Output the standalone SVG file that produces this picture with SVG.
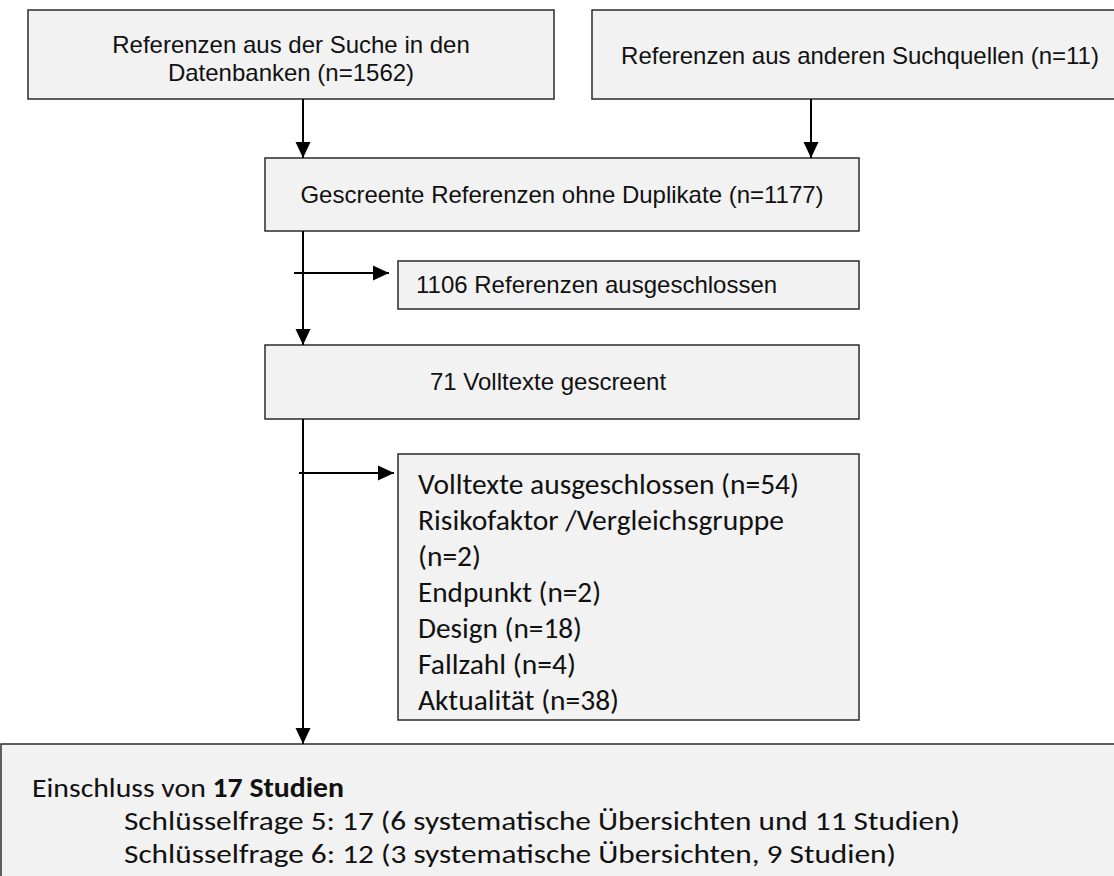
<svg xmlns="http://www.w3.org/2000/svg" width="1114" height="876" viewBox="0 0 1114 876">
<defs>
<marker id="ah" markerUnits="userSpaceOnUse" markerWidth="16" markerHeight="16" refX="16" refY="8" orient="auto" viewBox="0 0 16 16">
<path d="M0,0.5 L16,8 L0,15.5 Z" fill="#000"/>
</marker>
<style>
.box{fill:#f2f2f2;stroke:#2b2b2b;stroke-width:1.5}
.ar{font-family:"Liberation Sans",Arial,sans-serif;font-size:24px;fill:#111}
.cb{font-family:Carlito,Lato,"Open Sans",sans-serif;font-size:29.3px;fill:#111}
.cb2{font-family:Carlito,Lato,"Open Sans",sans-serif;font-size:27.5px;fill:#111}
.ln{stroke:#000;stroke-width:2;fill:none}
</style>
</defs>
<g id="node-datenbanken">
<rect class="box" x="28" y="10" width="526" height="89"/>
<text class="ar" x="291" y="53" text-anchor="middle">Referenzen aus der Suche in den</text>
<text class="ar" x="291" y="81" text-anchor="middle">Datenbanken (n=1562)</text>
</g>
<g id="node-andere">
<rect class="box" x="592" y="10" width="540" height="89"/>
<text class="ar" x="860" y="64" text-anchor="middle">Referenzen aus anderen Suchquellen (n=11)</text>
</g>
<g id="node-gescreent">
<rect class="box" x="265" y="158" width="594" height="73"/>
<text class="ar" x="562" y="203" text-anchor="middle">Gescreente Referenzen ohne Duplikate (n=1177)</text>
</g>
<g id="node-ausgeschlossen1">
<rect class="box" x="398" y="261" width="461" height="48"/>
<text class="ar" x="416" y="293">1106 Referenzen ausgeschlossen</text>
</g>
<g id="node-volltexte">
<rect class="box" x="265" y="345" width="594" height="74"/>
<text class="ar" x="548" y="390" text-anchor="middle">71 Volltexte gescreent</text>
</g>
<g id="node-ausgeschlossen2">
<rect class="box" x="398" y="454" width="461" height="266"/>
<text class="cb" x="418" y="494" textLength="381" lengthAdjust="spacingAndGlyphs">Volltexte ausgeschlossen (n=54)</text>
<text class="cb" x="418" y="530" textLength="366" lengthAdjust="spacingAndGlyphs">Risikofaktor /Vergleichsgruppe</text>
<text class="cb" x="418" y="566" textLength="63" lengthAdjust="spacingAndGlyphs">(n=2)</text>
<text class="cb" x="418" y="602" textLength="183" lengthAdjust="spacingAndGlyphs">Endpunkt (n=2)</text>
<text class="cb" x="418" y="638" textLength="164" lengthAdjust="spacingAndGlyphs">Design (n=18)</text>
<text class="cb" x="418" y="674" textLength="158" lengthAdjust="spacingAndGlyphs">Fallzahl (n=4)</text>
<text class="cb" x="418" y="710" textLength="201" lengthAdjust="spacingAndGlyphs">Aktualität (n=38)</text>
</g>
<g id="node-einschluss">
<rect class="box" x="1" y="744" width="1130" height="150"/>
<text class="cb2" x="32" y="797" textLength="312" lengthAdjust="spacingAndGlyphs">Einschluss von <tspan font-weight="bold">17 Studien</tspan></text>
<text class="cb2" x="124" y="830" textLength="836" lengthAdjust="spacingAndGlyphs">Schlüsselfrage 5: 17 (6 systematische Übersichten und 11 Studien)</text>
<text class="cb2" x="124" y="863" textLength="772" lengthAdjust="spacingAndGlyphs">Schlüsselfrage 6: 12 (3 systematische Übersichten, 9 Studien)</text>
</g>
<g id="connectors">
<line class="ln" x1="303" y1="99" x2="303" y2="158" marker-end="url(#ah)"/>
<line class="ln" x1="811" y1="99" x2="811" y2="158" marker-end="url(#ah)"/>
<line class="ln" x1="303" y1="231" x2="303" y2="345" marker-end="url(#ah)"/>
<line class="ln" x1="294" y1="273" x2="389" y2="273" marker-end="url(#ah)"/>
<line class="ln" x1="303" y1="419" x2="303" y2="744" marker-end="url(#ah)"/>
<line class="ln" x1="299" y1="473" x2="394" y2="473" marker-end="url(#ah)"/>
</g>
</svg>
